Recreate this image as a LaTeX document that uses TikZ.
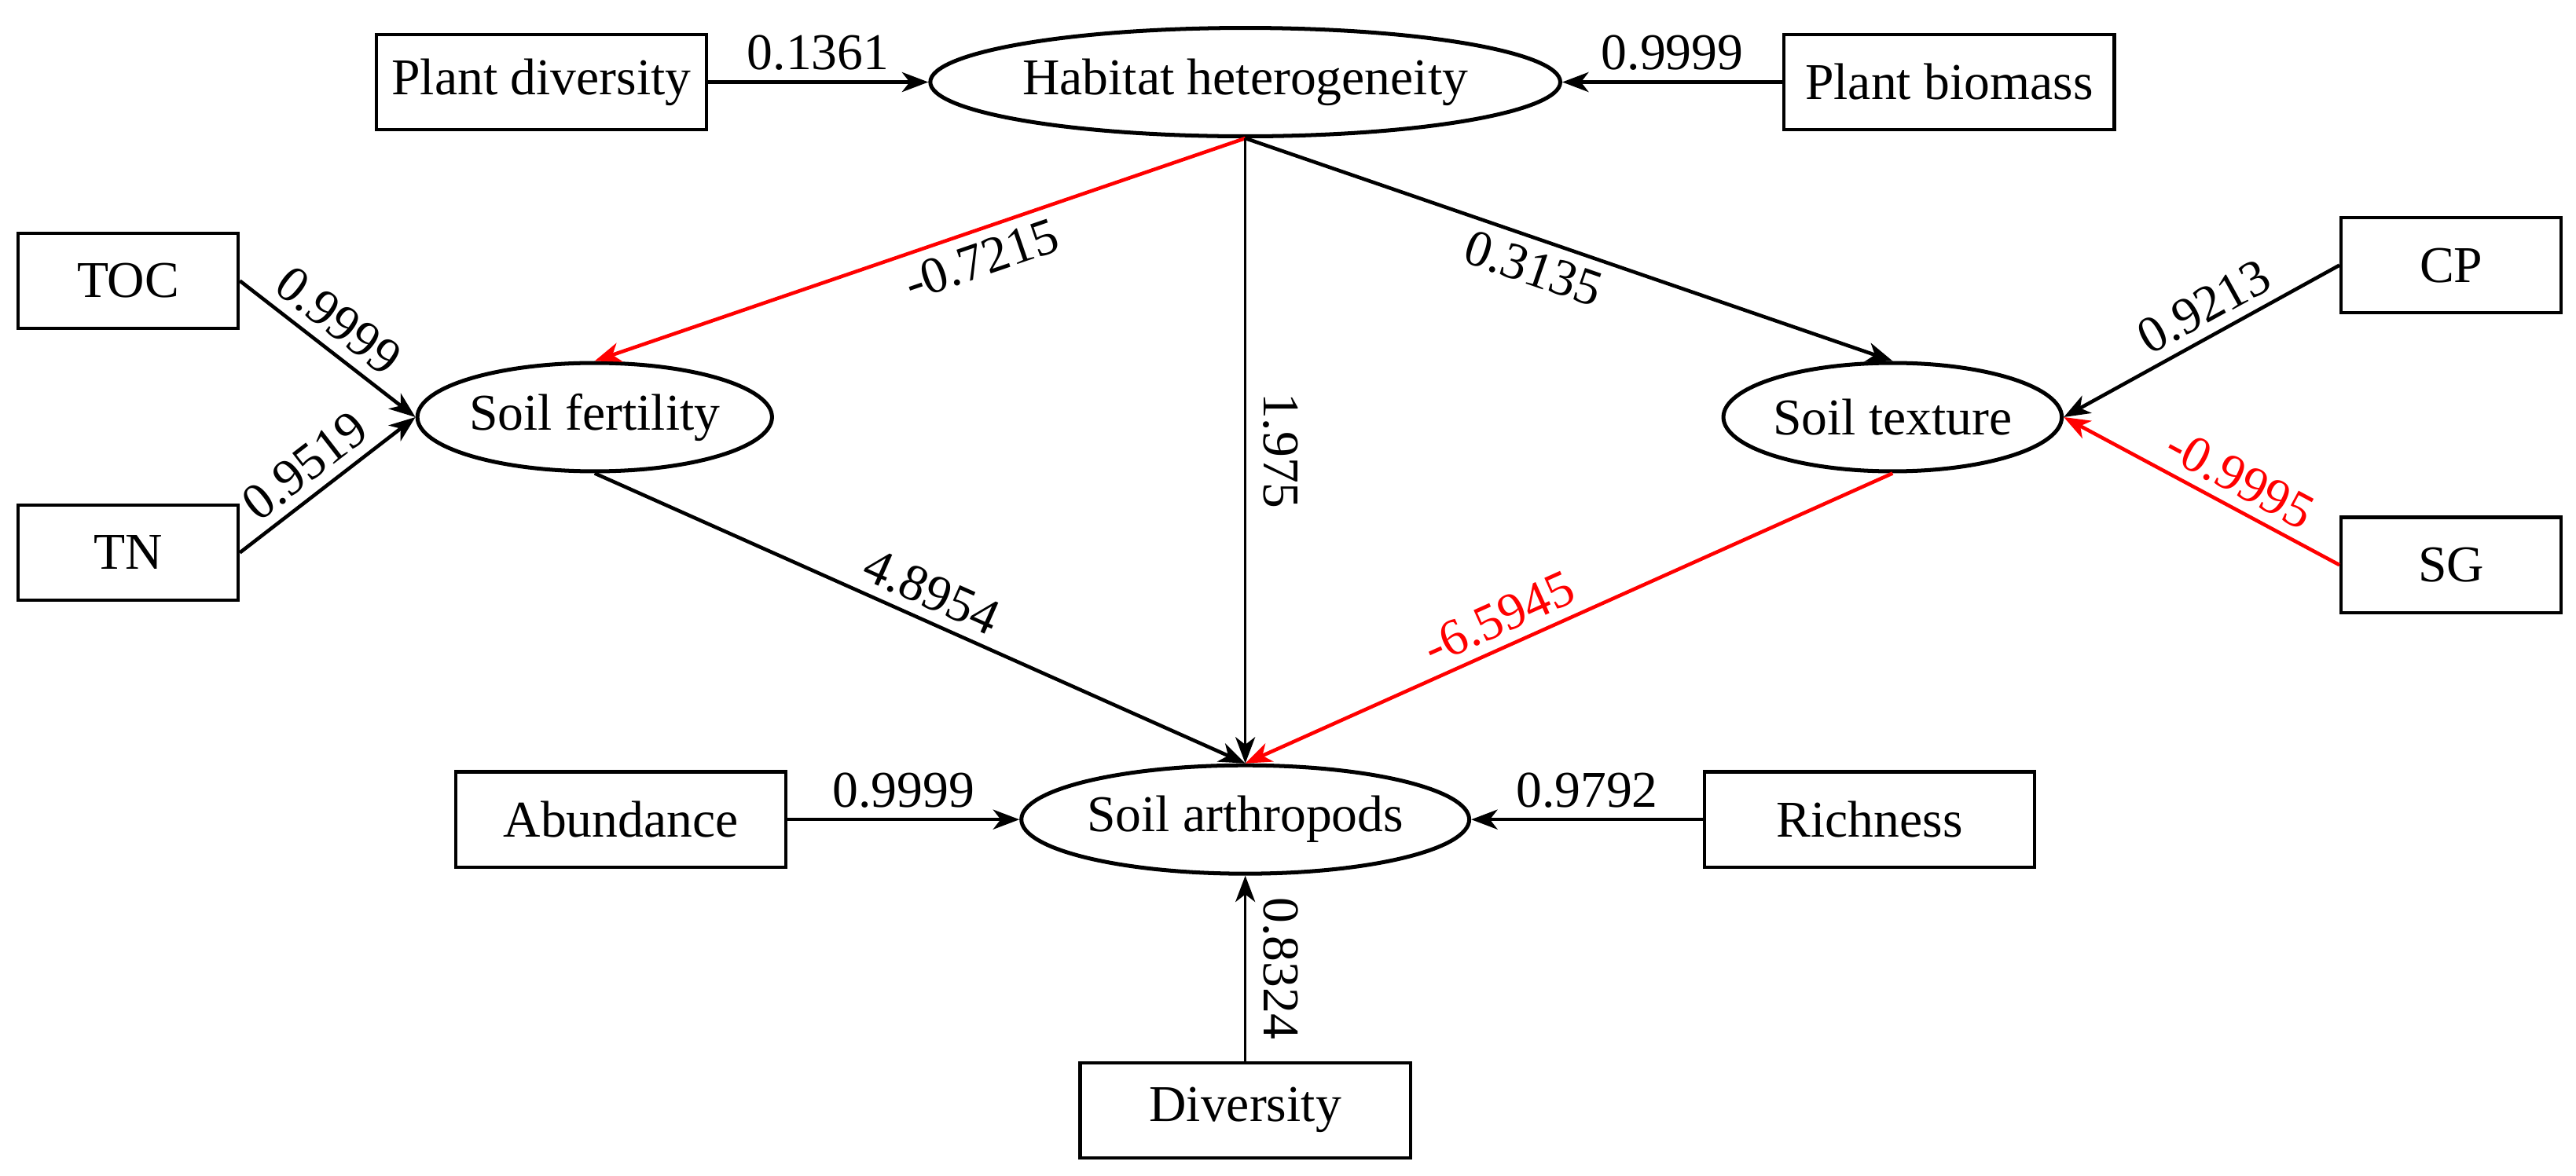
\documentclass[tikz,border=0pt]{standalone}
\usepackage{fontspec}
\setmainfont{Liberation Serif}
\usepackage{tikz}
\usetikzlibrary{shapes.geometric,arrows.meta}
\definecolor{negred}{RGB}{255, 0, 0}

\begin{document}
\begin{tikzpicture}[x=0.5pt,y=-0.5pt,
  font=\fontsize{15.7pt}{18pt}\selectfont,
  varbox/.style={draw, line width=1pt, minimum width=100.5pt, minimum height=29pt, inner sep=0pt},
  smallbox/.style={varbox, minimum width=67pt},
  latent/.style={ellipse, draw, line width=1.2pt, inner sep=0pt, minimum height=33pt},
  path/.style={line width=1.1pt, -{Stealth[length=8pt,width=6pt,inset=2.3pt]}},
  thinpath/.style={path, line width=0.8pt},
  negpath/.style={path, draw=negred},
  coef/.style={inner sep=3pt},
  vcoef/.style={inner sep=5pt, anchor=south, rotate=-90}
]
\useasboundingbox (0,0) rectangle (1568,716);

%Shape: Rectangle
\node [varbox] (plantdiv) at (329.5,50) {Plant diversity};
\node [varbox] (plantbio) at (1186.5,50) {Plant biomass};
\node [smallbox] (toc) at (78,171) {TOC};
\node [smallbox] (tn) at (78,336.5) {TN};
\node [smallbox] (cp) at (1492,161.5) {CP};
\node [smallbox] (sg) at (1492,344) {SG};
\node [varbox] (abund) at (378,499) {Abundance};
\node [varbox] (rich) at (1138,499) {Richness};
\node [varbox] (divers) at (758,676) {Diversity};

%Shape: Ellipse
\node [latent, minimum width=157pt] (habitat) at (758,50) {Habitat heterogeneity};
\node [latent, minimum width=101pt] (fert) at (362,254) {Soil fertility};
\node [latent, minimum width=101pt] (texture) at (1152,254) {Soil texture};
\node [latent, minimum width=112pt] (arthro) at (758,499) {Soil arthropods};

%Straight Lines
\draw [path] (plantdiv) -- node [coef, above] (c1) {0.1361} (habitat);
\draw [path] (plantbio) -- node [coef, above] (c2) {0.9999} (habitat);
\draw [path] (toc.east) -- node [coef, above, sloped, pos=0.46] (c3) {0.9999} (fert.west);
\draw [path] (tn.east) -- node [coef, above, sloped, pos=0.47] (c4) {0.9519} (fert.west);
\draw [negpath] (habitat.south) -- node [coef, below, sloped, pos=0.42] (c5) {-0.7215} (fert.north);
\draw [thinpath] (habitat.south) -- node [vcoef] (c6) {1.975} (arthro.north);
\draw [path] (habitat.south) -- node [coef, below, sloped, pos=0.46] (c7) {0.3135} (texture.north);
\draw [path] (cp.west) -- node [coef, above, sloped, pos=0.44] (c8) {0.9213} (texture.east);
\draw [negpath] (sg.west) -- node [coef, above, sloped, pos=0.41, text=negred] (c9) {-0.9995} (texture.east);
\draw [path] (fert.south) -- node [coef, above, sloped, pos=0.5] (c10) {4.8954} (arthro.north);
\draw [negpath] (texture.south) -- node [coef, above, sloped, pos=0.59, text=negred] (c11) {-6.5945} (arthro.north);
\draw [path] (abund) -- node [coef, above] (c12) {0.9999} (arthro);
\draw [path] (rich) -- node [coef, above] (c13) {0.9792} (arthro);
\draw [thinpath] (divers) -- node [vcoef] (c14) {0.8324} (arthro);

\end{tikzpicture}
\end{document}
